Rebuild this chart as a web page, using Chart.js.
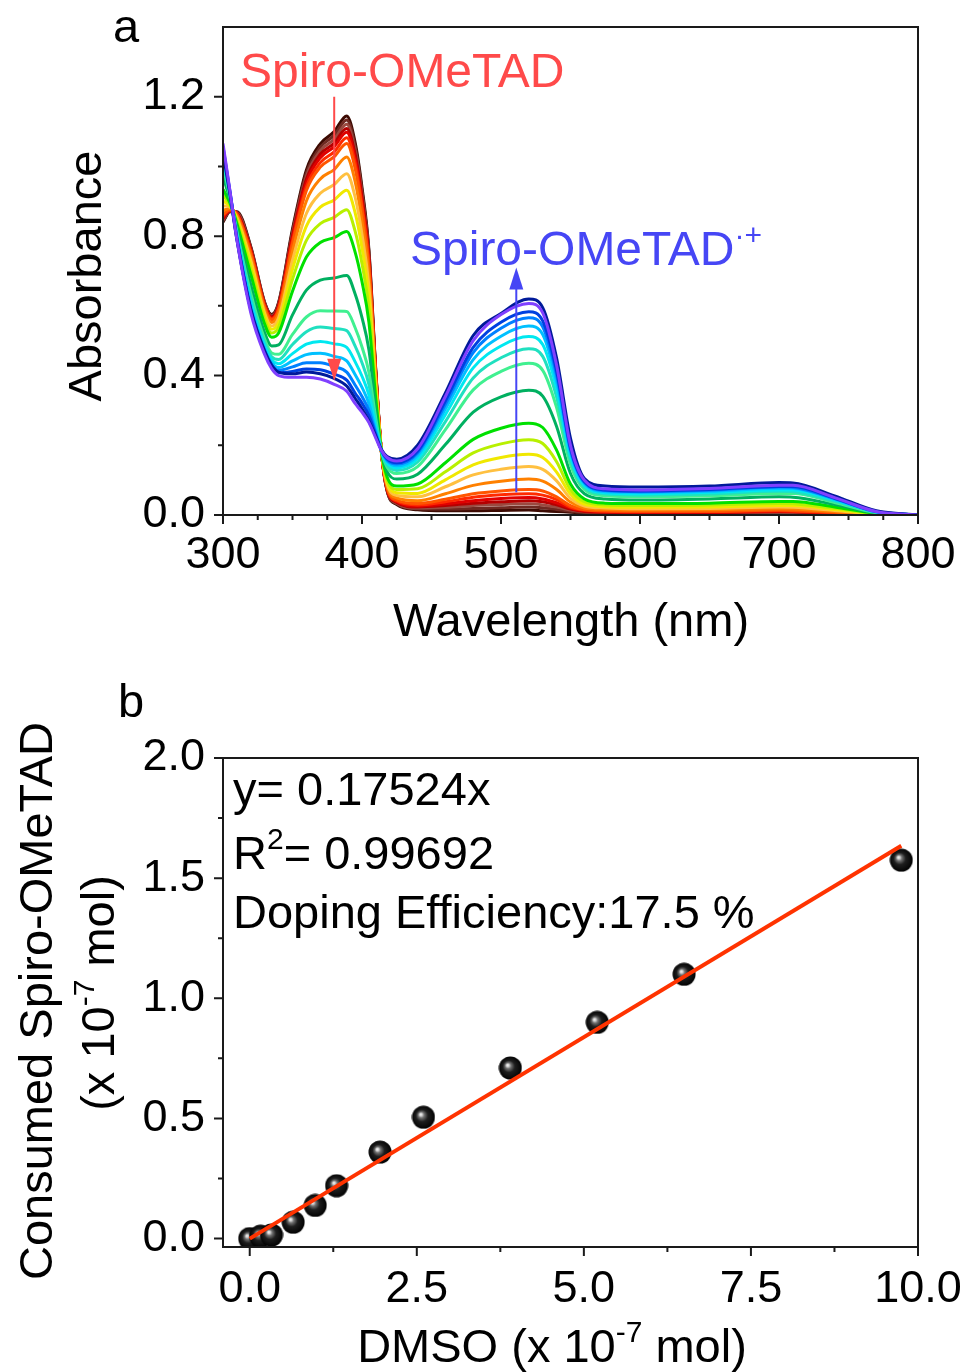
<!DOCTYPE html>
<html>
<head>
<meta charset="utf-8">
<script src="https://cdn.jsdelivr.net/npm/chart.js@4.4.1/dist/chart.umd.min.js"></script>
<style>
  html, body { margin: 0; padding: 0; background: #fff; }
  #wrap { position: relative; width: 968px; height: 1372px; }
  #chartA { position: absolute; left: 0; top: 0; }
  #chartB { position: absolute; left: 0; top: 660px; }
</style>
</head>
<body>
<div id="wrap">
  <canvas id="chartA" width="968" height="660"></canvas>
  <canvas id="chartB" width="968" height="712"></canvas>
</div>
<script>
// ---- panel a : absorption spectra ----
const wavelength = [300,305,310,320,330,335,340,350,360,370,380,389,395,400,405,410,414,418,425,440,460,480,500,520,530,540,550,560,575,600,650,700,710,740,770,800];

const spec01 = [0.84,0.87,0.87,0.77,0.61,0.575,0.61,0.82,0.99,1.065,1.10,1.145,1.07,0.94,0.76,0.41,0.18,0.07,0.03,0.015,0.012,0.012,0.013,0.014,0.012,0.01,0.008,0.006,0.005,0.004,0.004,0.006,0.005,0.003,0.001,0];
const spec02 = [.843,.871,.869,.767,.608,.573,.607,.814,.981,1.055,1.089,1.133,1.059,.930,.753,.407,.18,.071,.032,.018,.017,.019,.021,.023,.021,.016,.011,.007,.006,.005,.005,.007,.006,.004,.001,0];
const spec03 = [.847,.872,.868,.764,.606,.570,.604,.807,.972,1.045,1.078,1.121,1.048,.921,.745,.404,.18,.073,.034,.020,.022,.027,.030,.032,.029,.023,.014,.009,.007,.006,.006,.008,.007,.004,.001,0];
const spec04 = [.850,.873,.866,.761,.603,.568,.601,.801,.963,1.035,1.067,1.109,1.036,.911,.738,.401,.18,.074,.036,.023,.027,.034,.038,.041,.038,.029,.017,.010,.008,.007,.007,.010,.009,.005,.001,0];
const spec05 = [.854,.874,.865,.759,.601,.566,.597,.795,.954,1.025,1.057,1.098,1.025,.901,.730,.399,.18,.076,.038,.026,.032,.041,.047,.050,.046,.035,.020,.012,.009,.008,.008,.011,.010,.006,.002,0];
const spec06 = [.858,.875,.864,.755,.598,.563,.593,.786,.942,1.011,1.042,1.082,1.010,.888,.720,.395,.18,.078,.040,.029,.038,.051,.058,.061,.057,.044,.023,.014,.011,.009,.010,.012,.011,.007,.002,0];
const spec07 = [.863,.876,.862,.751,.595,.560,.589,.778,.931,.998,1.028,1.066,.995,.876,.711,.391,.181,.080,.043,.033,.045,.061,.069,.073,.069,.052,.027,.015,.012,.011,.011,.014,.013,.008,.002,0];
const spec08 = [.874,.879,.858,.742,.588,.552,.579,.756,.901,.964,.991,1.027,.958,.843,.686,.382,.181,.084,.049,.041,.061,.085,.097,.103,.097,.073,.037,.020,.016,.014,.015,.018,.017,.010,.002,0];
const spec09 = [.887,.883,.853,.730,.579,.542,.566,.731,.865,.923,.948,.979,.913,.805,.656,.370,.181,.090,.056,.052,.081,.115,.131,.139,.131,.098,.048,.026,.020,.018,.019,.023,.022,.013,.003,0];
const spec10 = [.901,.886,.848,.719,.570,.533,.553,.705,.829,.883,.904,.932,.868,.766,.626,.359,.181,.096,.064,.062,.101,.144,.165,.174,.165,.123,.060,.031,.024,.022,.023,.027,.027,.016,.003,0];
const spec11 = [.917,.890,.843,.705,.559,.522,.539,.676,.788,.836,.854,.876,.815,.721,.592,.345,.182,.102,.073,.075,.124,.178,.204,.216,.205,.153,.073,.038,.029,.027,.029,.033,.032,.019,.004,0];
const spec12 = [.935,.895,.836,.690,.547,.510,.522,.642,.740,.782,.796,.813,.755,.669,.552,.330,.182,.110,.083,.089,.150,.217,.249,.263,.251,.186,.089,.046,.034,.033,.034,.039,.039,.023,.005,0];
const spec13 = [.971,.905,.824,.660,.523,.485,.488,.574,.645,.674,.680,.687,.635,.566,.473,.300,.183,.125,.103,.117,.202,.295,.339,.358,.341,.254,.119,.061,.046,.043,.046,.052,.051,.030,.006,0];
const spec14 = [1.001,.913,.813,.635,.504,.465,.461,.518,.568,.586,.585,.584,.538,.482,.409,.275,.184,.138,.119,.139,.245,.359,.412,.435,.415,.308,.144,.073,.055,.052,.055,.062,.062,.036,.007,0];
const spec15 = [1.016,.917,.808,.622,.493,.454,.446,.489,.526,.539,.535,.529,.485,.437,.374,.262,.184,.144,.128,.152,.268,.393,.451,.477,.455,.338,.158,.079,.060,.057,.060,.068,.067,.040,.008,0];
const spec16 = [1.030,.920,.803,.610,.484,.445,.434,.463,.490,.498,.491,.481,.440,.398,.344,.250,.184,.150,.135,.162,.288,.422,.485,.512,.489,.363,.169,.085,.064,.061,.065,.072,.072,.043,.009,0];
const spec17 = [1.041,.923,.799,.601,.477,.437,.423,.442,.460,.464,.455,.442,.403,.366,.319,.241,.184,.155,.141,.171,.304,.446,.513,.542,.518,.384,.179,.090,.067,.065,.068,.076,.076,.045,.009,0];
const spec18 = [1.050,.926,.796,.593,.471,.431,.415,.425,.437,.437,.426,.410,.373,.340,.300,.233,.185,.158,.146,.178,.317,.466,.536,.566,.540,.401,.187,.093,.070,.067,.071,.080,.079,.047,.009,0];
const spec19 = [1.057,.928,.793,.588,.466,.426,.408,.412,.419,.417,.404,.387,.350,.321,.285,.228,.185,.161,.150,.183,.327,.481,.553,.583,.557,.413,.192,.096,.072,.069,.073,.082,.082,.048,.010,0];
const spec20 = [1.04,.92,.79,.59,.47,.43,.41,.405,.41,.405,.392,.37,.335,.305,.27,.225,.188,.168,.16,.20,.35,.515,.578,.62,.595,.45,.22,.105,.083,.080,.083,.093,.092,.055,.012,0];
const spec21 = [1.066,.93,.79,.58,.46,.42,.40,.395,.395,.39,.375,.355,.32,.295,.265,.22,.185,.165,.155,.19,.34,.50,.575,.607,.58,.43,.20,.10,.075,.072,.076,.085,.085,.05,.01,0];

const spectra = [spec01,spec02,spec03,spec04,spec05,spec06,spec07,spec08,spec09,spec10,spec11,spec12,spec13,spec14,spec15,spec16,spec17,spec18,spec19,spec20,spec21];
const specColors = ['#3c0a02','#6e2a22','#9a4a40','#b40000','#e00000','#ff2a00','#ff5500','#ff8000','#ffc040','#f0e800','#b8f000','#00e000','#00b060','#40f090','#20e0c0','#00e8f0','#00c0ff','#0080ff','#0040e0','#001a9a','#8040ff'];

const xTicksA = [300,400,500,600,700,800];
const xMinorA = [325,350,375,425,450,475,525,550,575,625,650,675,725,750,775];
const yTicksA = [0,0.4,0.8,1.2];
const yMinorA = [0.2,0.6,1.0];

// arrows (wavelength, from absorbance, to absorbance)
const redArrow = [380, 1.2, 0.385];
const blueArrow = [511, 0.065, 0.71];

// ---- panel b : consumed spiro vs DMSO ----
const dmso = [0, 0.163, 0.326, 0.65, 0.98, 1.3, 1.95, 2.6, 3.9, 5.2, 6.5, 9.75];
const consumed = [0, 0.01, 0.015, 0.068, 0.138, 0.22, 0.36, 0.505, 0.71, 0.90, 1.10, 1.575];
const fitX = [0, 9.75];
const fitY = [0, 1.635];

const xTicksB = [0,2.5,5,7.5,10];
const xMinorB = [1.25,3.75,6.25,8.75];
const yTicksB = [0,0.5,1,1.5,2];
const yMinorB = [0.25,0.75,1.25,1.75];

const FONT = '"Liberation Sans", Arial, sans-serif';
const big = `47px ${FONT}`;
const label = `48px ${FONT}`;
const sup = `30px ${FONT}`;

function drawFrame(chart, xMaj, xMin, yMaj, yMin) {
  const { ctx, chartArea: a, scales: { x, y } } = chart;
  ctx.save();
  ctx.strokeStyle = '#1a1a1a';
  ctx.lineWidth = 2;
  ctx.strokeRect(a.left, a.top, a.right - a.left, a.bottom - a.top);
  ctx.beginPath();
  xMaj.forEach(v => { const p = x.getPixelForValue(v); ctx.moveTo(p, a.bottom); ctx.lineTo(p, a.bottom + 9); });
  xMin.forEach(v => { const p = x.getPixelForValue(v); ctx.moveTo(p, a.bottom); ctx.lineTo(p, a.bottom + 5); });
  yMaj.forEach(v => { const p = y.getPixelForValue(v); ctx.moveTo(a.left, p); ctx.lineTo(a.left - 9, p); });
  yMin.forEach(v => { const p = y.getPixelForValue(v); ctx.moveTo(a.left, p); ctx.lineTo(a.left - 5, p); });
  ctx.stroke();
  ctx.restore();
}

// text made of parts, some raised (superscript)
function richText(ctx, parts, x, y, align, color, angle) {
  ctx.save();
  ctx.translate(x, y);
  if (angle) ctx.rotate(angle);
  ctx.fillStyle = color;
  ctx.textBaseline = 'alphabetic';
  ctx.textAlign = 'left';
  let total = 0;
  parts.forEach(p => { ctx.font = p.font || big; p.w = ctx.measureText(p.t).width; total += p.w; });
  let cx = align === 'center' ? -total / 2 : 0;
  parts.forEach(p => { ctx.font = p.font || big; ctx.fillText(p.t, cx, p.dy || 0); cx += p.w; });
  ctx.restore();
}

function arrow(ctx, px, y0, y1, color) {
  const dir = y1 > y0 ? 1 : -1;
  ctx.save();
  ctx.strokeStyle = color;
  ctx.fillStyle = color;
  ctx.lineWidth = 2;
  ctx.beginPath();
  ctx.moveTo(px, y0);
  ctx.lineTo(px, y1 - dir * 16);
  ctx.stroke();
  ctx.beginPath();
  ctx.moveTo(px, y1);
  ctx.lineTo(px - 7, y1 - dir * 22);
  ctx.lineTo(px + 7, y1 - dir * 22);
  ctx.closePath();
  ctx.fill();
  ctx.restore();
}

const tickFont = { family: FONT, size: 45 };
const noPadX = s => { s.paddingLeft = 0; s.paddingRight = 0; };
const noPadY = s => { s.paddingTop = 0; s.paddingBottom = 0; };

const decoA = {
  id: 'decoA',
  afterDraw(chart) {
    const { ctx, scales: { x, y } } = chart;
    drawFrame(chart, xTicksA, xMinorA, yTicksA, yMinorA);
    richText(ctx, [{ t: 'a' }], 113, 42, 'left', '#000');
    richText(ctx, [{ t: 'Absorbance' }], 101, 276, 'center', '#000', -Math.PI / 2);
    richText(ctx, [{ t: 'Wavelength (nm)' }], 571, 636, 'center', '#000');
    richText(ctx, [{ t: 'Spiro-OMeTAD', font: label }], 240, 87, 'left', '#ff4a4a');
    richText(ctx, [{ t: 'Spiro-OMeTAD', font: label }, { t: '·+', font: sup, dy: -20 }], 410, 265, 'left', '#4646f5');
    arrow(ctx, x.getPixelForValue(redArrow[0]), y.getPixelForValue(redArrow[1]), y.getPixelForValue(redArrow[2]), '#ff4a4a');
    arrow(ctx, x.getPixelForValue(blueArrow[0]), y.getPixelForValue(blueArrow[1]), y.getPixelForValue(blueArrow[2]), '#4646f5');
  }
};

new Chart(document.getElementById('chartA'), {
  type: 'line',
  data: {
    datasets: spectra.map((s, i) => ({
      data: wavelength.map((w, j) => ({ x: w, y: s[j] })),
      borderColor: specColors[i],
      borderWidth: 3,
      pointRadius: 0,
      cubicInterpolationMode: 'monotone',
      order: spectra.length - i
    }))
  },
  options: {
    responsive: false,
    animation: false,
    layout: { padding: { top: 27, right: 50, left: 0, bottom: 0 } },
    plugins: { legend: { display: false }, tooltip: { enabled: false } },
    scales: {
      x: {
        type: 'linear', min: 300, max: 800,
        grid: { display: false, drawTicks: false }, border: { display: false },
        afterFit: s => { s.height = 145; noPadX(s); },
        afterBuildTicks: s => { s.ticks = xTicksA.map(v => ({ value: v })); },
        ticks: { font: tickFont, color: '#000', padding: 14, maxRotation: 0, autoSkip: false, callback: v => String(v) }
      },
      y: {
        min: 0, max: 1.4,
        grid: { display: false, drawTicks: false }, border: { display: false },
        afterFit: s => { s.width = 223; noPadY(s); },
        afterBuildTicks: s => { s.ticks = yTicksA.map(v => ({ value: v })); },
        ticks: { font: tickFont, color: '#000', padding: 18, callback: v => v.toFixed(1) }
      }
    }
  },
  plugins: [decoA]
});

// glossy black sphere marker
const sphere = document.createElement('canvas');
sphere.width = 24; sphere.height = 24;
(function () {
  const g = sphere.getContext('2d');
  const grad = g.createRadialGradient(9, 9, 0, 12, 12, 12);
  grad.addColorStop(0, '#ffffff');
  grad.addColorStop(0.12, '#d0d0d0');
  grad.addColorStop(0.25, '#707070');
  grad.addColorStop(0.5, '#1e1e1e');
  grad.addColorStop(1, '#000');
  g.fillStyle = grad;
  g.beginPath();
  g.arc(12, 12, 11.5, 0, Math.PI * 2);
  g.fill();
})();

const decoB = {
  id: 'decoB',
  afterDraw(chart) {
    const { ctx } = chart;
    drawFrame(chart, xTicksB, xMinorB, yTicksB, yMinorB);
    richText(ctx, [{ t: 'b' }], 118, 57, 'left', '#000');
    richText(ctx, [{ t: 'Consumed Spiro-OMeTAD' }], 52, 341, 'center', '#000', -Math.PI / 2);
    richText(ctx, [{ t: '(x 10' }, { t: '-7', font: sup, dy: -20 }, { t: ' mol)' }], 114, 333, 'center', '#000', -Math.PI / 2);
    richText(ctx, [{ t: 'DMSO (x 10' }, { t: '-7', font: sup, dy: -20 }, { t: ' mol)' }], 552, 702, 'center', '#000');
    richText(ctx, [{ t: 'y= 0.17524x' }], 233, 145, 'left', '#000');
    richText(ctx, [{ t: 'R' }, { t: '2', font: sup, dy: -20 }, { t: '= 0.99692' }], 233, 209, 'left', '#000');
    richText(ctx, [{ t: 'Doping Efficiency:17.5 %' }], 233, 268, 'left', '#000');
  }
};

new Chart(document.getElementById('chartB'), {
  type: 'scatter',
  data: {
    datasets: [
      {
        data: fitX.map((v, i) => ({ x: v, y: fitY[i] })),
        showLine: true,
        borderColor: '#ff3300',
        borderWidth: 4,
        pointRadius: 0,
        order: 0
      },
      {
        data: dmso.map((v, i) => ({ x: v, y: consumed[i] })),
        pointStyle: sphere,
        pointRadius: 11,
        order: 1
      }
    ]
  },
  options: {
    responsive: false,
    animation: false,
    layout: { padding: { top: 98, right: 50, left: 0, bottom: 0 } },
    plugins: { legend: { display: false }, tooltip: { enabled: false } },
    scales: {
      x: {
        type: 'linear', min: -0.4, max: 10,
        grid: { display: false, drawTicks: false }, border: { display: false },
        afterFit: s => { s.height = 125; noPadX(s); },
        afterBuildTicks: s => { s.ticks = xTicksB.map(v => ({ value: v })); },
        ticks: { font: tickFont, color: '#000', padding: 16, maxRotation: 0, autoSkip: false, callback: v => v.toFixed(1) }
      },
      y: {
        min: -0.035, max: 2.0,
        grid: { display: false, drawTicks: false }, border: { display: false },
        afterFit: s => { s.width = 223; noPadY(s); },
        afterBuildTicks: s => { s.ticks = yTicksB.map(v => ({ value: v })); },
        ticks: { font: tickFont, color: '#000', padding: 18, callback: v => v.toFixed(1) }
      }
    }
  },
  plugins: [decoB]
});
</script>
</body>
</html>
